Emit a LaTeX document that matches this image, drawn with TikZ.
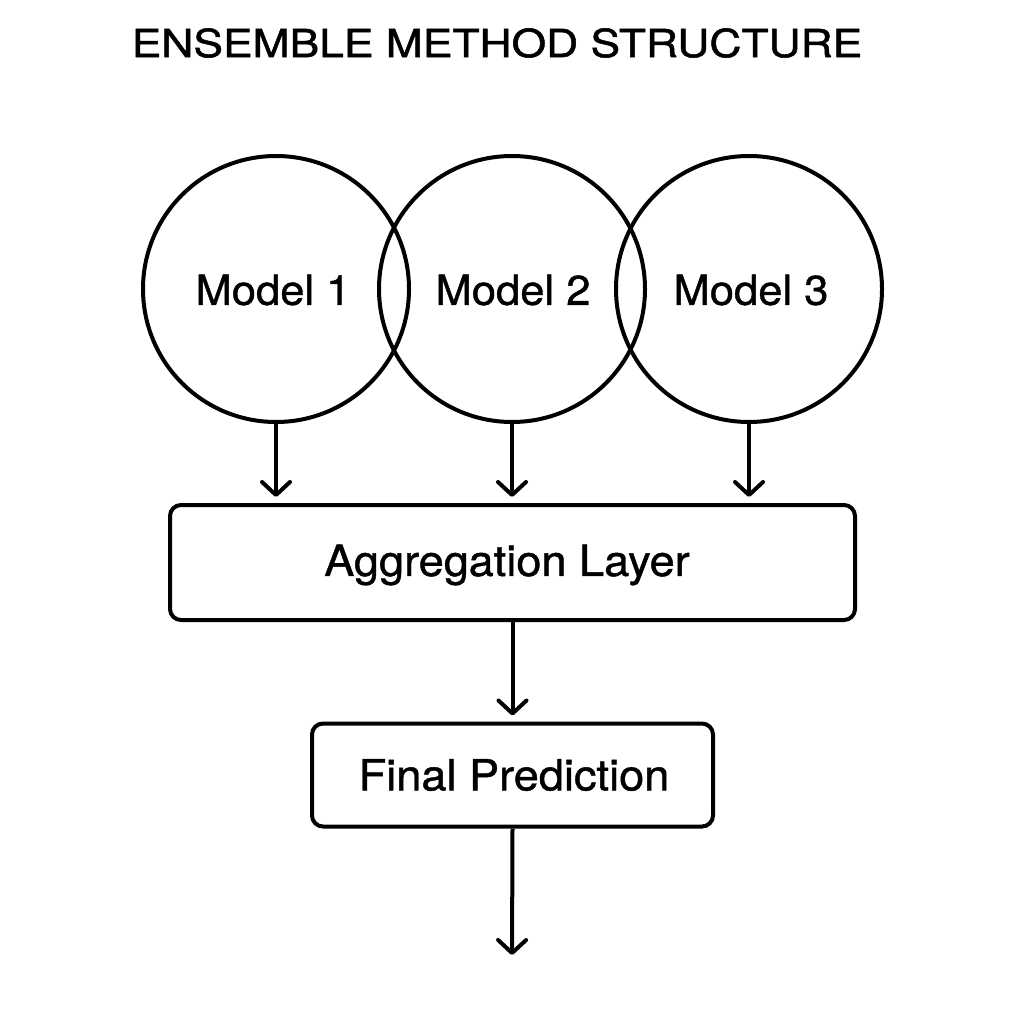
\documentclass[tikz,border=0pt]{standalone}
\usepackage{fontspec}
\setmainfont[FakeStretch=1.05,FakeBold=1]{TeX Gyre Heros}
\newfontfamily\titlefont[FakeStretch=1.15,FakeBold=1.3]{TeX Gyre Heros}
\usetikzlibrary{arrows.meta}
\begin{document}
\begin{tikzpicture}[x=1pt,y=-1pt,
  every node/.style={font=\fontsize{43}{48}\selectfont},
  line/.style={line width=4pt},
  model/.style={line, draw, circle, minimum size=266pt, inner sep=0pt},
  boxstyle/.style={line, draw, rounded corners=11pt, inner sep=0pt},
  conn/.style={line, -{Straight Barb[length=13pt,width=28pt,line width=4pt,round]}, shorten >=6pt}
]
\useasboundingbox (0,0) rectangle (1024,1024);
\node[font=\titlefont\fontsize{38.6}{44}\selectfont] (title) at (497,43) {ENSEMBLE METHOD STRUCTURE};
\node[model] (m1) at (276,289) {};
\node[model] (m2) at (512,289) {};
\node[model] (m3) at (749,289) {};
\node[font=\fontsize{41.5}{46}\selectfont] at (273,290) {Model 1};
\node[font=\fontsize{41.5}{46}\selectfont] at (513,290) {Model 2};
\node[font=\fontsize{41.5}{46}\selectfont] at (751,290) {Model 3};
\node[boxstyle, minimum width=685pt, minimum height=115pt] (agg) at (512.5,562.5) {};
\node at (507,565) {Aggregation Layer};
\node[boxstyle, minimum width=401pt, minimum height=103pt] (fin) at (512.5,775) {};
\node at (514,775) {Final Prediction};
\coordinate (out) at (512,961);
\draw[conn] (m1.south) -- (m1.south |- agg.north);
\draw[conn] (m2.south) -- (m2.south |- agg.north);
\draw[conn] (m3.south) -- (m3.south |- agg.north);
\draw[conn] (agg.south -| fin.north) -- (fin.north);
\draw[conn] (fin.south) -- (out);
\end{tikzpicture}
\end{document}
